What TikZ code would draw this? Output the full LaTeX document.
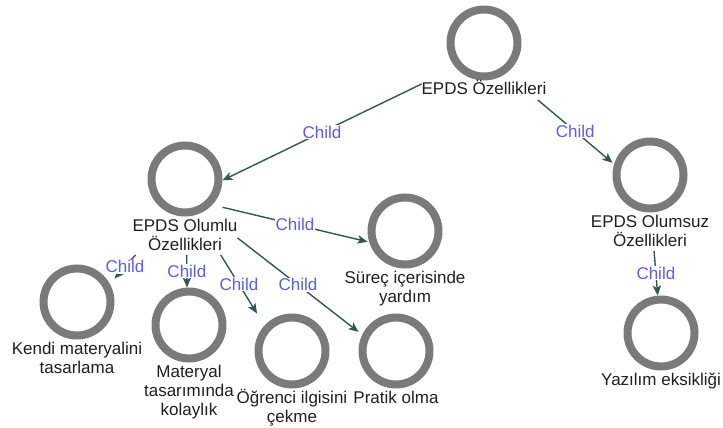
\documentclass[tikz,border=0pt]{standalone}
\usepackage{fontspec}
\setmainfont{Liberation Sans}
\usetikzlibrary{arrows.meta,positioning}
\definecolor{ringgray}{RGB}{122,122,122}
\definecolor{edgeteal}{RGB}{52,86,82}
\definecolor{childblue}{RGB}{92,92,238}
% one caption line with a fixed height and depth, so lines sit 19pt apart
\newcommand{\lline}[1]{\raisebox{0pt}[14pt][5pt]{#1}}
\tikzset{
  concept/.style={rectangle, minimum size=75pt, inner sep=0pt, outer sep=0pt,
    path picture={\draw[ringgray, line width=8pt]
      (path picture bounding box.center) circle[radius=33.5pt];}},
  conceptlabel/.style={below=0.5pt of #1, align=center, inner sep=0pt,
    outer sep=0pt, font=\fontsize{17}{19}\selectfont, text=black!88},
  link/.style={draw=edgeteal, line width=1.4pt,
    -{Stealth[length=10pt,width=8.5pt,inset=2.5pt]}},
  childlbl/.style={fill=white, inner sep=0.8pt, text=childblue,
    font=\fontsize{17}{19}\selectfont},
}
\begin{document}
\begin{tikzpicture}[x=1pt, y=-1pt]
  \useasboundingbox (0,0) rectangle (723,428);

  % concept rings
  \node[concept] (c-root)     at (484,43)  {};
  \node[concept] (c-olumlu)   at (185,179) {};
  \node[concept] (c-olumsuz)  at (650,175) {};
  \node[concept] (c-surec)    at (405,231) {};
  \node[concept] (c-kendi)    at (77,302)  {};
  \node[concept] (c-materyal) at (189,325) {};
  \node[concept] (c-ogrenci)  at (292,351) {};
  \node[concept] (c-pratik)   at (396,351) {};
  \node[concept] (c-yazilim)  at (661,333) {};

  % captions under the rings
  \node[conceptlabel=c-root]     (l-root)     {\lline{EPDS Özellikleri}};
  \node[conceptlabel=c-olumlu]   (l-olumlu)   {\lline{EPDS Olumlu}\\\lline{Özellikleri}};
  \node[conceptlabel=c-olumsuz]  (l-olumsuz)  {\lline{EPDS Olumsuz}\\\lline{Özellikleri}};
  \node[conceptlabel=c-surec]    (l-surec)    {\lline{Süreç içerisinde}\\\lline{yardım}};
  \node[conceptlabel=c-kendi]    (l-kendi)    {\lline{Kendi materyalini}\\\lline{tasarlama}};
  \node[conceptlabel=c-materyal] (l-materyal) {\lline{Materyal}\\\lline{tasarımında}\\\lline{kolaylık}};
  \node[conceptlabel=c-ogrenci]  (l-ogrenci)  {\lline{Öğrenci ilgisini}\\\lline{çekme}};
  \node[conceptlabel=c-pratik]   (l-pratik)   {\lline{Pratik olma}};
  \node[conceptlabel=c-yazilim]  (l-yazilim)  {\lline{Yazılım eksikliği}};

  % parent -> child links
  \draw[link] (l-root.174)   -- node[childlbl] {Child} (c-olumlu.-2);
  \draw[link] (l-root.-10)   -- node[childlbl] {Child} (c-olumsuz.162);
  \draw[link] (c-olumlu.-37) -- node[childlbl] {Child} (c-surec.196);
  \draw[link] (l-olumlu.201) -- node[childlbl] {Child} (c-kendi.32);
  \draw[link] (l-olumlu.-85) -- node[childlbl] {Child} (c-materyal.93);
  \draw[link] (l-olumlu.-28) -- node[childlbl] {Child} (c-ogrenci.133);
  \draw[link] (l-olumlu.-2)  -- node[childlbl] {Child} (c-pratik.153);
  \draw[link] (l-olumsuz.-78) -- node[childlbl] {Child} (c-yazilim.95);
\end{tikzpicture}
\end{document}
